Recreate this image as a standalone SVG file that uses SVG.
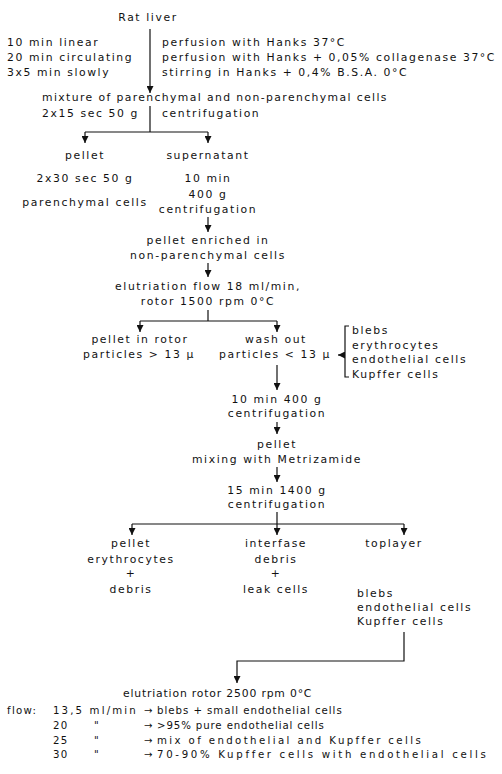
<svg xmlns="http://www.w3.org/2000/svg" width="502" height="774" viewBox="0 0 502 774">
<defs>
<style>
text{font-family:"DejaVu Sans","Liberation Sans",sans-serif;font-size:10.8px;letter-spacing:1.6px;fill:#111}
.m{text-anchor:middle}
.f{font-size:10.2px;letter-spacing:1.3px}
.c{fill:none;stroke:#111;stroke-width:1.2}
</style>
<marker id="ah" viewBox="0 0 8 8" refX="8" refY="4" markerWidth="7" markerHeight="7" markerUnits="userSpaceOnUse" orient="auto">
<path d="M0,0 L8,4 L0,8 z" fill="#111"/>
</marker>
</defs>
<rect width="502" height="774" fill="#fff"/>
<g id="connectors">
<path class="c" d="M150,29 V93" marker-end="url(#ah)"/>
<path class="c" d="M150,106 V132 M85,132 H208"/>
<path class="c" d="M85,132 V143" marker-end="url(#ah)"/>
<path class="c" d="M208,132 V143" marker-end="url(#ah)"/>
<path class="c" d="M208,217 V232" marker-end="url(#ah)"/>
<path class="c" d="M208,263 V277" marker-end="url(#ah)"/>
<path class="c" d="M208,310 V321 M140,321 H277"/>
<path class="c" d="M140,321 V332" marker-end="url(#ah)"/>
<path class="c" d="M277,321 V332" marker-end="url(#ah)"/>
<path class="c" d="M277,365 V390" marker-end="url(#ah)"/>
<path class="c" d="M277,422 V434" marker-end="url(#ah)"/>
<path class="c" d="M277,467 V482" marker-end="url(#ah)"/>
<path class="c" d="M277,512 V524 M132,524 H404"/>
<path class="c" d="M132,524 V535" marker-end="url(#ah)"/>
<path class="c" d="M277,524 V535" marker-end="url(#ah)"/>
<path class="c" d="M404,524 V535" marker-end="url(#ah)"/>
<path class="c" d="M404,632 V661 H237 V683" marker-end="url(#ah)"/>
<path class="c" d="M349,326 H345 V377 H349"/>
<path class="c" d="M345,355 H338" marker-end="url(#ah)"/>
</g>
<g id="n-rat"><text x="148" y="21" class="m">Rat liver</text></g>
<g id="n-conditions">
<text x="7" y="46">10 min linear</text>
<text x="7" y="61">20 min circulating</text>
<text x="7" y="76">3x5 min slowly</text>
</g>
<g id="n-steps">
<text x="162" y="46">perfusion with Hanks 37°C</text>
<text x="162" y="61">perfusion with Hanks + 0,05% collagenase 37°C</text>
<text x="162" y="76">stirring in Hanks + 0,4% B.S.A. 0°C</text>
</g>
<g id="n-mixture"><text x="42" y="101" textLength="346" lengthAdjust="spacing">mixture of parenchymal and non-parenchymal cells</text></g>
<g id="n-centrif1">
<text x="42" y="117">2x15 sec 50 g</text>
<text x="162" y="117">centrifugation</text>
</g>
<g id="n-pellet1">
<text x="85" y="159" class="m">pellet</text>
<text x="85" y="182" class="m">2x30 sec 50 g</text>
<text x="85" y="206" class="m">parenchymal cells</text>
</g>
<g id="n-supernatant">
<text x="208" y="159" class="m">supernatant</text>
<text x="208" y="182" class="m">10 min</text>
<text x="208" y="198" class="m">400 g</text>
<text x="208" y="213" class="m">centrifugation</text>
</g>
<g id="n-enriched">
<text x="208" y="244" class="m">pellet enriched in</text>
<text x="208" y="259" class="m">non-parenchymal cells</text>
</g>
<g id="n-elutriation1">
<text x="208" y="290" class="m">elutriation flow 18 ml/min,</text>
<text x="208" y="305" class="m">rotor 1500 rpm 0°C</text>
</g>
<g id="n-pellet-rotor">
<text x="140" y="343" class="m">pellet in rotor</text>
<text x="139" y="358" class="m">particles &gt; 13 μ</text>
</g>
<g id="n-washout">
<text x="276" y="343" class="m">wash out</text>
<text x="275" y="358" class="m">particles &lt; 13 μ</text>
</g>
<g id="n-washout-content">
<text x="352" y="334">blebs</text>
<text x="352" y="349">erythrocytes</text>
<text x="352" y="363">endothelial cells</text>
<text x="352" y="378">Kupffer cells</text>
</g>
<g id="n-centrif2">
<text x="277" y="403" class="m">10 min 400 g</text>
<text x="277" y="417" class="m">centrifugation</text>
</g>
<g id="n-metrizamide">
<text x="277" y="448" class="m">pellet</text>
<text x="277" y="463" class="m">mixing with Metrizamide</text>
</g>
<g id="n-centrif3">
<text x="277" y="494" class="m">15 min 1400 g</text>
<text x="277" y="508" class="m">centrifugation</text>
</g>
<g id="n-pellet3">
<text x="131" y="547" class="m">pellet</text>
<text x="131" y="563" class="m">erythrocytes</text>
<text x="131" y="577" class="m">+</text>
<text x="131" y="593" class="m">debris</text>
</g>
<g id="n-interfase">
<text x="276" y="547" class="m">interfase</text>
<text x="276" y="563" class="m">debris</text>
<text x="276" y="577" class="m">+</text>
<text x="276" y="593" class="m">leak cells</text>
</g>
<g id="n-toplayer">
<text x="394" y="547" class="m">toplayer</text>
<text x="357" y="597">blebs</text>
<text x="357" y="611">endothelial cells</text>
<text x="357" y="625">Kupffer cells</text>
</g>
<g id="n-elutriation2">
<text x="123" y="697" textLength="190" lengthAdjust="spacing">elutriation rotor 2500 rpm 0°C</text>
</g>
<g id="n-flow">
<text x="7" y="714" class="f">flow:</text>
<text x="53" y="714" class="f" textLength="84" lengthAdjust="spacing">13,5 ml/min</text>
<text x="53" y="729" class="f">20</text>
<text x="53" y="744" class="f">25</text>
<text x="53" y="758" class="f">30</text>
<text x="94" y="729" class="f">"</text>
<text x="94" y="744" class="f">"</text>
<text x="94" y="758" class="f">"</text>
<text x="144" y="714" class="f">→</text>
<text x="144" y="729" class="f">→</text>
<text x="144" y="744" class="f">→</text>
<text x="144" y="758" class="f">→</text>
<text x="157" y="714" class="f" textLength="186" lengthAdjust="spacing">blebs + small endothelial cells</text>
<text x="157" y="729" class="f" textLength="168" lengthAdjust="spacing">&gt;95% pure endothelial cells</text>
<text x="157" y="744" class="f" textLength="265" lengthAdjust="spacing">mix of endothelial and Kupffer cells</text>
<text x="157" y="758" class="f" textLength="330" lengthAdjust="spacing">70-90% Kupffer cells with endothelial cells</text>
</g>
</svg>
